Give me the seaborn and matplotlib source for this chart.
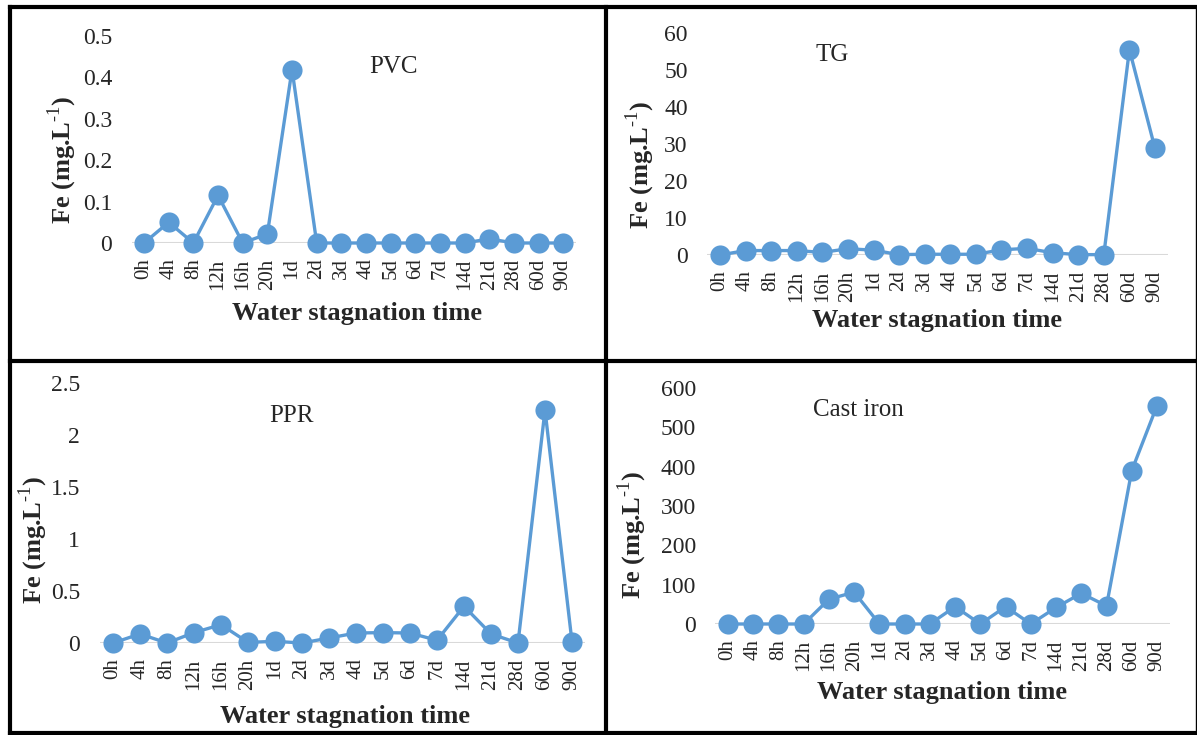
import pandas as pd
import matplotlib.pyplot as plt
import seaborn as sns
from matplotlib.lines import Line2D
from matplotlib.ticker import FuncFormatter

times = ['0h', '4h', '8h', '12h', '16h', '20h', '1d', '2d', '3d', '4d', '5d', '6d',
         '7d', '14d', '21d', '28d', '60d', '90d']
pvc = [0, 0.05, 0, 0.115, 0, 0.022, 0.419, 0, 0, 0, 0, 0, 0, 0, 0.01, 0, 0, 0]
tg = [0, 1.2, 1.2, 1.2, 0.7, 1.7, 1.3, 0.1, 0.2, 0.2, 0.2, 1.4, 1.8, 0.6, 0.1, 0.1, 55.5, 28.8]
ppr = [0, 0.087, 0, 0.10, 0.176, 0.006, 0.016, 0, 0.048, 0.096, 0.10, 0.096, 0.026,
       0.353, 0.087, 0, 2.24, 0.01]
cast_iron = [0, 0, 0, 0, 63, 81, 0, 0, 0, 44, 0, 44, 0, 42, 78, 46, 390, 555]

names = ['PVC', 'TG', 'PPR', 'Cast iron']
series = [pvc, tg, ppr, cast_iron]
yticks = [[0, 0.1, 0.2, 0.3, 0.4, 0.5], list(range(0, 61, 10)),
          [0, 0.5, 1, 1.5, 2, 2.5], list(range(0, 601, 100))]

sns.set_theme(style='white')
plt.rcParams['font.family'] = ['Liberation Serif', 'DejaVu Serif']
plt.rcParams['mathtext.fontset'] = 'custom'
plt.rcParams['mathtext.rm'] = 'Liberation Serif'

W, H = 1197, 735
fig = plt.figure(figsize=(W / 100, H / 100), dpi=100)


def px(x0, y0, x1, y1):
    # pixel box -> figure fraction rect
    return [x0 / W, 1 - y1 / H, (x1 - x0) / W, (y1 - y0) / H]


boxes = [px(131.7, 36, 575.7, 243), px(707.2, 33, 1167.8, 255),
         px(99.5, 383, 585.5, 643), px(715.4, 388, 1169.6, 624)]
name_pos = [(393, 67), (832, 55), (291, 416), (858, 410)]
ylab_pos = [(62, 160), (640, 165), (33, 540), (632, 535)]
xlab_pos = [(357, 313), (937, 320), (345, 716), (942, 692)]

blue = '#5B9BD5'
for i, (name, vals) in enumerate(zip(names, series)):
    ax = fig.add_axes(boxes[i])
    df = pd.DataFrame({'time': times, 'Fe': vals})
    ax.axhline(0, color='#D9D9D9', lw=1.5, zorder=1)
    sns.lineplot(df, x='time', y='Fe', sort=False, ax=ax, color=blue, lw=2.4,
                 marker='o', markersize=14.5, markeredgewidth=0, clip_on=False, zorder=3)
    ax.set_xlim(-0.5, len(times) - 0.5)
    ax.set_ylim(yticks[i][0], yticks[i][-1])
    ax.set_yticks(yticks[i])
    ax.yaxis.set_major_formatter(FuncFormatter(lambda v, p: f'{v:g}'))
    ax.set_xticks(range(len(times)))
    ax.set_xticklabels(times, rotation=90)
    ax.tick_params(axis='y', length=0, pad=14, labelsize=17)
    ax.tick_params(axis='x', length=0, pad=11, labelsize=15)
    for s in ax.spines.values():
        s.set_visible(False)
    ax.set_xlabel('')
    ax.set_ylabel('')
    ax.patch.set_alpha(0)
    fig.text(name_pos[i][0] / W, 1 - name_pos[i][1] / H, name, fontsize=18,
             ha='center', va='center')
    fig.text(ylab_pos[i][0] / W, 1 - ylab_pos[i][1] / H, r'Fe (mg.L$^{\text{-1}}$)',
             fontsize=19, fontweight='bold', rotation=90, ha='center', va='center')
    fig.text(xlab_pos[i][0] / W, 1 - xlab_pos[i][1] / H, 'Water stagnation time',
             fontsize=19, fontweight='bold', ha='center', va='center')

# panel frames
def seg(x0, y0, x1, y1, lw=3):
    fig.add_artist(Line2D([x0 / W, x1 / W], [1 - y0 / H, 1 - y1 / H],
                          color='black', lw=lw, solid_capstyle='projecting'))


seg(9.5, 6.5, 1195.5, 6.5)
seg(9.5, 6.5, 9.5, 733)
seg(9.5, 733, 1195.5, 733)
seg(1195.5, 6.5, 1195.5, 733, lw=1)
seg(605.5, 6.5, 605.5, 733)
seg(9.5, 360.5, 1195.5, 360.5)

fig.savefig('out.png', dpi=100)
